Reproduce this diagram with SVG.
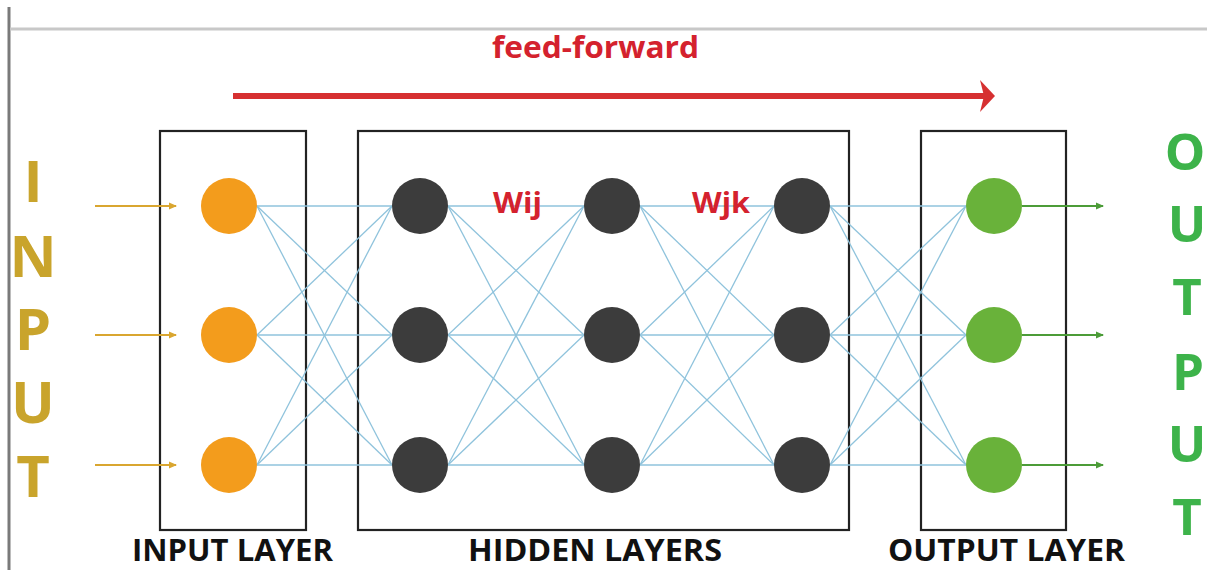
<svg xmlns="http://www.w3.org/2000/svg" width="1207" height="570" viewBox="0 0 1207 570">
<style>
.box{fill:none;stroke:#222;stroke-width:2.2}
.lnk{stroke:#8fc3dc;stroke-width:1.3;fill:none}
.in{fill:#f39c1c}
.hid{fill:#3c3c3c}
.out{fill:#69b23a}
.lbl{font-family:"Open Sans","Liberation Sans",sans-serif;font-weight:bold;fill:#111;font-size:30px}
.red{font-family:"Open Sans","Liberation Sans",sans-serif;font-weight:bold;fill:#d4222e}
.bigin{font-family:"Open Sans","Liberation Sans",sans-serif;font-weight:bold;fill:#c9a42c;font-size:58px}
.bigout{font-family:"Open Sans","Liberation Sans",sans-serif;font-weight:bold;fill:#3db34a;font-size:51px}
.inarr{stroke:#d9a630;stroke-width:2.2}
.outarr{stroke:#4c9c38;stroke-width:2}
</style>
<defs>
<marker id="ahIn" markerWidth="8" markerHeight="8" refX="7" refY="4" orient="auto" markerUnits="userSpaceOnUse"><path d="M0,0.5 L8,4 L0,7.5 Z" fill="#d9a630"/></marker>
<marker id="ahOut" markerWidth="8" markerHeight="8" refX="7" refY="4" orient="auto" markerUnits="userSpaceOnUse"><path d="M0,0.5 L8,4 L0,7.5 Z" fill="#4c9c38"/></marker>
</defs>
<rect width="1207" height="570" fill="#fff"/>
<!-- frame lines -->
<line x1="9" y1="7" x2="9" y2="570" stroke="#7a7a7a" stroke-width="3"/>
<line x1="10" y1="29" x2="1207" y2="29" stroke="#c8c8c8" stroke-width="3"/>
<!-- feed-forward -->
<g id="feedforward">
<text class="red" x="492" y="58" font-size="30" textLength="207" lengthAdjust="spacingAndGlyphs">feed-forward</text>
<line x1="233" y1="96" x2="985" y2="96" stroke="#d63031" stroke-width="6"/>
<path d="M980,80 L995,96 L980,112 L984,96 Z" fill="#d63031"/>
</g>
<!-- layer boxes -->
<g id="input-layer">
<rect class="box" x="160" y="131" width="146" height="399"/>
<text class="lbl" x="132" y="561" textLength="201" lengthAdjust="spacingAndGlyphs">INPUT LAYER</text>
</g>
<g id="hidden-layers">
<rect class="box" x="358" y="131" width="491" height="399"/>
<text class="lbl" x="468" y="561" textLength="254" lengthAdjust="spacingAndGlyphs">HIDDEN LAYERS</text>
</g>
<g id="output-layer">
<rect class="box" x="921" y="131" width="145" height="399"/>
<text class="lbl" x="888" y="561" textLength="237" lengthAdjust="spacingAndGlyphs">OUTPUT LAYER</text>
</g>
<!-- connectors -->
<g id="connectors">
<g class="lnk">
<line x1="257" y1="206" x2="392" y2="206"/><line x1="257" y1="206" x2="392" y2="335"/><line x1="257" y1="206" x2="392" y2="465"/>
<line x1="257" y1="335" x2="392" y2="206"/><line x1="257" y1="335" x2="392" y2="335"/><line x1="257" y1="335" x2="392" y2="465"/>
<line x1="257" y1="465" x2="392" y2="206"/><line x1="257" y1="465" x2="392" y2="335"/><line x1="257" y1="465" x2="392" y2="465"/>
<line x1="448" y1="206" x2="584" y2="206"/><line x1="448" y1="206" x2="584" y2="335"/><line x1="448" y1="206" x2="584" y2="465"/>
<line x1="448" y1="335" x2="584" y2="206"/><line x1="448" y1="335" x2="584" y2="335"/><line x1="448" y1="335" x2="584" y2="465"/>
<line x1="448" y1="465" x2="584" y2="206"/><line x1="448" y1="465" x2="584" y2="335"/><line x1="448" y1="465" x2="584" y2="465"/>
<line x1="640" y1="206" x2="774" y2="206"/><line x1="640" y1="206" x2="774" y2="335"/><line x1="640" y1="206" x2="774" y2="465"/>
<line x1="640" y1="335" x2="774" y2="206"/><line x1="640" y1="335" x2="774" y2="335"/><line x1="640" y1="335" x2="774" y2="465"/>
<line x1="640" y1="465" x2="774" y2="206"/><line x1="640" y1="465" x2="774" y2="335"/><line x1="640" y1="465" x2="774" y2="465"/>
<line x1="830" y1="206" x2="966" y2="206"/><line x1="830" y1="206" x2="966" y2="335"/><line x1="830" y1="206" x2="966" y2="465"/>
<line x1="830" y1="335" x2="966" y2="206"/><line x1="830" y1="335" x2="966" y2="335"/><line x1="830" y1="335" x2="966" y2="465"/>
<line x1="830" y1="465" x2="966" y2="206"/><line x1="830" y1="465" x2="966" y2="335"/><line x1="830" y1="465" x2="966" y2="465"/>
</g>
<line class="inarr" x1="95" y1="206" x2="176" y2="206" marker-end="url(#ahIn)"/>
<line class="inarr" x1="95" y1="335" x2="176" y2="335" marker-end="url(#ahIn)"/>
<line class="inarr" x1="95" y1="465" x2="176" y2="465" marker-end="url(#ahIn)"/>
<line class="outarr" x1="1022" y1="206" x2="1103" y2="206" marker-end="url(#ahOut)"/>
<line class="outarr" x1="1022" y1="335" x2="1103" y2="335" marker-end="url(#ahOut)"/>
<line class="outarr" x1="1022" y1="465" x2="1103" y2="465" marker-end="url(#ahOut)"/>
</g>
<!-- nodes -->
<g id="in1"><circle class="in" cx="229" cy="206" r="28"/></g>
<g id="in2"><circle class="in" cx="229" cy="335" r="28"/></g>
<g id="in3"><circle class="in" cx="229" cy="465" r="28"/></g>
<g id="h11"><circle class="hid" cx="420" cy="206" r="28"/></g>
<g id="h12"><circle class="hid" cx="420" cy="335" r="28"/></g>
<g id="h13"><circle class="hid" cx="420" cy="465" r="28"/></g>
<g id="h21"><circle class="hid" cx="612" cy="206" r="28"/></g>
<g id="h22"><circle class="hid" cx="612" cy="335" r="28"/></g>
<g id="h23"><circle class="hid" cx="612" cy="465" r="28"/></g>
<g id="h31"><circle class="hid" cx="802" cy="206" r="28"/></g>
<g id="h32"><circle class="hid" cx="802" cy="335" r="28"/></g>
<g id="h33"><circle class="hid" cx="802" cy="465" r="28"/></g>
<g id="o1"><circle class="out" cx="994" cy="206" r="28"/></g>
<g id="o2"><circle class="out" cx="994" cy="335" r="28"/></g>
<g id="o3"><circle class="out" cx="994" cy="465" r="28"/></g>
<!-- weight labels -->
<g id="weights">
<text class="red" x="493" y="213" font-size="29" textLength="49" lengthAdjust="spacingAndGlyphs">Wij</text>
<text class="red" x="692" y="213" font-size="29" textLength="58" lengthAdjust="spacingAndGlyphs">Wjk</text>
</g>
<!-- side words -->
<g id="input-word" text-anchor="middle">
<text class="bigin" x="33" y="202">I</text>
<text class="bigin" x="33" y="277">N</text>
<text class="bigin" x="33" y="350">P</text>
<text class="bigin" x="33" y="423">U</text>
<text class="bigin" x="33" y="497">T</text>
</g>
<g id="output-word" text-anchor="middle">
<text class="bigout" x="1185" y="170">O</text>
<text class="bigout" x="1187" y="242">U</text>
<text class="bigout" x="1187" y="315">T</text>
<text class="bigout" x="1188" y="390">P</text>
<text class="bigout" x="1187" y="462">U</text>
<text class="bigout" x="1187" y="535">T</text>
</g>
</svg>
